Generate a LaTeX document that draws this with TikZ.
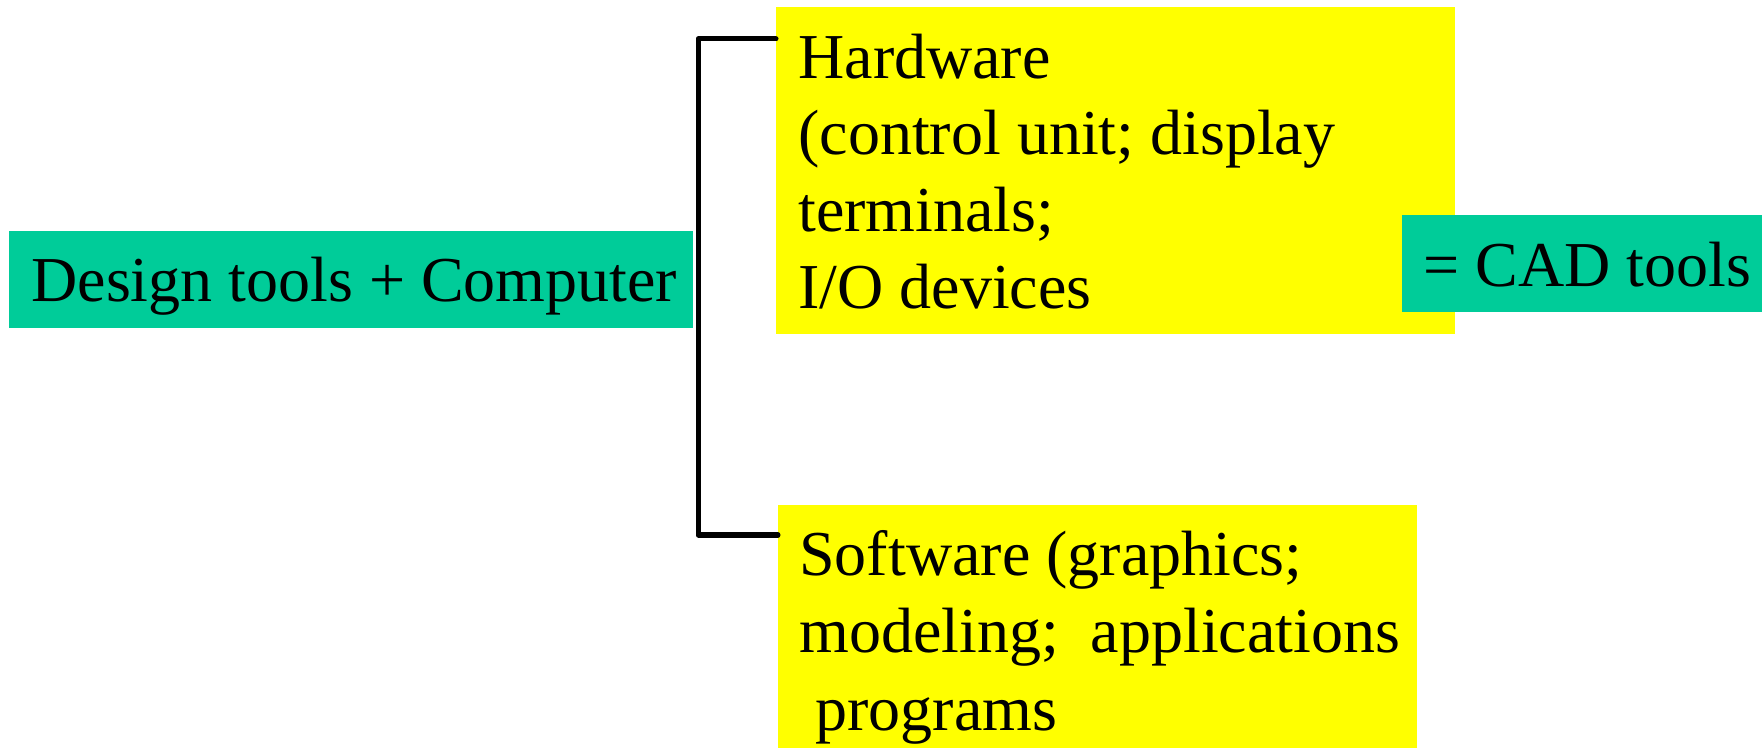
\documentclass[tikz,border=0pt]{standalone}
\usepackage{fontspec}
\setmainfont{Liberation Serif}
\definecolor{padgreen}{HTML}{00CC99}
\definecolor{padyellow}{HTML}{FFFF00}
\begin{document}
\begin{tikzpicture}[x=0.5pt,y=-0.5pt,
  panel/.style={rectangle,inner sep=0pt,anchor=north west,draw=none},
  greenpanel/.style={panel,fill=padgreen},
  yellowpanel/.style={panel,fill=padyellow},
  words/.style={anchor=base west,inner sep=0pt,font=\fontsize{32pt}{38.5pt}\selectfont},
  bracket/.style={draw=black,line width=2.5pt,line join=round,line cap=round}]
\useasboundingbox (0,0) rectangle (1762,748);

% boxes
\node[greenpanel,minimum width=342pt,minimum height=48.5pt] (dt) at (9,231) {};
\node[yellowpanel,minimum width=339.5pt,minimum height=163.5pt] (hw) at (776,7) {};
\node[yellowpanel,minimum width=319.5pt,minimum height=121.5pt] (sw) at (778,505) {};
\node[greenpanel,minimum width=180pt,minimum height=48.5pt] (cad) at (1402,215) {};

% bracket joining hardware and software
\coordinate (spine) at (698,0);
\coordinate (hw-in) at ([yshift=-16pt]hw.north west);
\coordinate (sw-in) at ([yshift=-15pt]sw.north west);
\draw[bracket] (hw-in) -| (spine |- sw-in) -- (sw-in);

% texts
\node[words] (dt-t) at (31,302) {Design tools + Computer};
\node[words] (hw-1) at (798,79) {Hardware};
\node[words] (hw-2) at (798,155) {(control unit; display};
\node[words] (hw-3) at (798,232) {terminals;};
\node[words] (hw-4) at (798,309) {I/O devices};
\node[words] (sw-1) at (799,575) {Software (graphics;};
\node[words] (sw-2) at (799,652) {modeling;\ \ applications};
\node[words] (sw-3) at (799,730) {\ programs};
\node[words] (cad-t) at (1423,287) {= CAD tools};
\end{tikzpicture}
\end{document}
